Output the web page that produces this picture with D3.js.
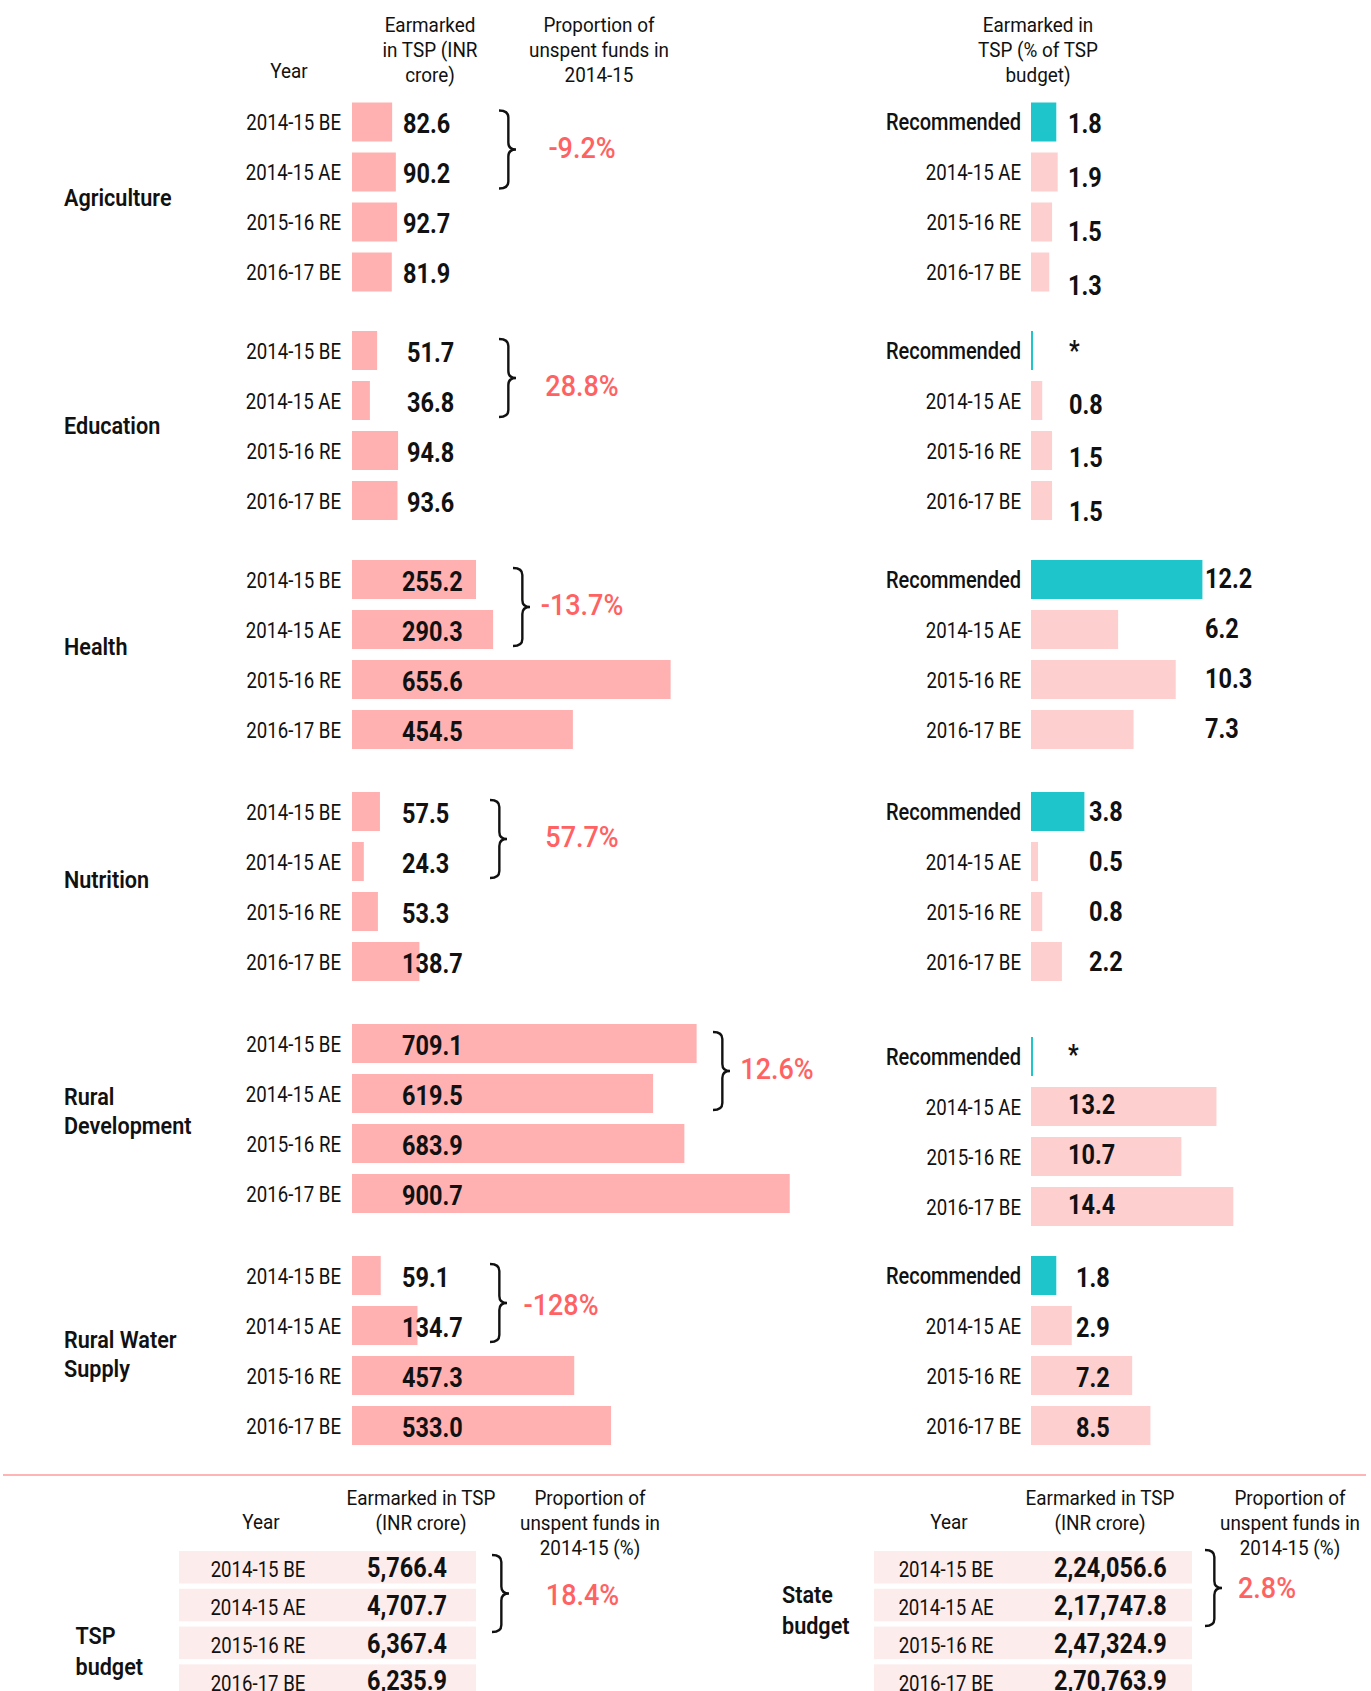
<!DOCTYPE html>
<html><head><meta charset="utf-8">
<script src="https://cdn.jsdelivr.net/npm/d3@7"></script>
<style>
html,body{margin:0;padding:0;background:#fff;}
svg{display:block;font-family:Roboto,"Open Sans",sans-serif;}
</style></head><body>
<svg id="chart" width="1371" height="1691"></svg>
<script>
// ---------------- DATA ----------------
const categories = ["Agriculture", "Education", "Health", "Nutrition", "Rural Development", "Rural Water Supply"];
const categoryLines = [["Agriculture"], ["Education"], ["Health"], ["Nutrition"], ["Rural", "Development"], ["Rural Water", "Supply"]];
const yearLabels = ["2014-15 BE", "2014-15 AE", "2015-16 RE", "2016-17 BE"];
const shareLabels = ["Recommended", "2014-15 AE", "2015-16 RE", "2016-17 BE"];
// Earmarked in TSP (INR crore), by category, in yearLabels order
const earmarkedAgriculture = [82.6, 90.2, 92.7, 81.9];
const earmarkedEducation = [51.7, 36.8, 94.8, 93.6];
const earmarkedHealth = [255.2, 290.3, 655.6, 454.5];
const earmarkedNutrition = [57.5, 24.3, 53.3, 138.7];
const earmarkedRuralDev = [709.1, 619.5, 683.9, 900.7];
const earmarkedRuralWater = [59.1, 134.7, 457.3, 533.0];
const earmarked = [earmarkedAgriculture, earmarkedEducation, earmarkedHealth, earmarkedNutrition, earmarkedRuralDev, earmarkedRuralWater];
// Proportion of unspent funds in 2014-15 (%)
const unspentPct = [-9.2, 28.8, -13.7, 57.7, 12.6, -128];
// Earmarked in TSP (% of TSP budget): recommended (null = "*"), then 2014-15 AE, 2015-16 RE, 2016-17 BE
const recommendedPct = [1.8, null, 12.2, 3.8, null, 1.8];
const sharePct = [[1.9, 1.5, 1.3], [0.8, 1.5, 1.5], [6.2, 10.3, 7.3], [0.5, 0.8, 2.2], [13.2, 10.7, 14.4], [2.9, 7.2, 8.5]];
// Bottom tables
const budgetNames = [["TSP", "budget"], ["State", "budget"]];
const tspBudget = [5766.4, 4707.7, 6367.4, 6235.9];
const stateBudget = [224056.6, 217747.8, 247324.9, 270763.9];
const budgetUnspent = [18.4, 2.8];

// ---------------- LAYOUT ----------------
const sectionTop = [102.5, 331, 560, 792, 1024, 1256];
const rightOffset = [0, 0, 0, 0, 13, 0];
const catDy = [1, 0.5, -7.5, -6.5, -7, 4];
const leftValX = [403, 407, 402, 402, 402, 402];
const braceX = [499, 499, 513, 490, 713, 490];
const pctX = [582, 582, 582, 582, 777, 561];
const pctDy = [0, 10, 0, 0, 0, 4];
const rightValX = [1068, 1069, 1205, 1089, 1068, 1076];
const rightValPitch = [54, 53.5, 50, 50, 50, 50];
const rightValDy = [1, 0, -1.5, 0, -2, 2];

const C = {bar: "#FFB1B1", share: "#FDCFCF", rec: "#1EC6CC", pct: "#FF6262", rowBg: "#FDECEC", rule: "#FFB5B5", ink: "#111"};

const svg = d3.select("#chart");

function txt(sel, x, y, str, o) {
  o = o || {};
  const g = sel.append("g").attr("transform", `translate(${x},${y}) scale(${o.sx || 0.85},1)`);
  g.append("text")
    .attr("text-anchor", o.anchor || "start")
    .attr("dy", o.dy == null ? "0.35em" : o.dy)
    .attr("font-size", o.size || 22)
    .attr("font-weight", o.weight || 400)
    .attr("fill", o.fill || C.ink)
    .text(str);
  return g;
}
function lines(sel, x, y0, arr, lh, o) {
  arr.forEach((s, i) => txt(sel, x, y0 + i * lh, s, o));
}
function brace(sel, x, y1, y2, w) {
  const ym = (y1 + y2) / 2, xm = x + w * 0.55, r = 7;
  const p = `M${x},${y1} Q${xm},${y1} ${xm},${y1 + r} L${xm},${ym - r} Q${xm},${ym} ${x + w},${ym} Q${xm},${ym} ${xm},${ym + r} L${xm},${y2 - r} Q${xm},${y2} ${x},${y2}`;
  sel.append("path").attr("d", p).attr("fill", "none").attr("stroke", "#111").attr("stroke-width", 2.4);
}
const fmt1 = d3.format(".1f");
function fmtPct(v) {
  const a = Math.abs(v);
  return (v < 0 ? "-" : "") + (a >= 100 ? d3.format(".0f")(a) : fmt1(a)) + "%";
}
function fmtIndian(v) {
  const [int, dec] = v.toFixed(1).split(".");
  const last3 = int.slice(-3);
  let rest = int.slice(0, -3);
  if (!rest) return last3 + "." + dec;
  rest = rest.replace(/\B(?=(\d{2})+(?!\d))/g, ",");
  return rest + "," + last3 + "." + dec;
}

const S = {
  year: {size: 23, sx: 0.81},
  rec: {size: 23, sx: 0.87, weight: 500},
  val: {size: 28, sx: 0.84, weight: 700},
  cat: {size: 24, sx: 0.9, weight: 600},
  pct: {size: 30, sx: 0.9, fill: C.pct, weight: 500},
  head: {size: 21, sx: 0.9, anchor: "middle"}
};

// scales
const xLeft = d3.scaleLinear().domain([0, 1000]).range([352, 352 + 486]);
const xRight = d3.scaleLinear().domain([0, 15]).range([1031, 1031 + 210.75]);
const rowBand = d3.scaleBand().domain(d3.range(4)).range([0, 189]).paddingInner(0.22).paddingOuter(0);

// ---------------- HEADERS ----------------
txt(svg, 289, 71, "Year", S.head);
lines(svg, 430, 25, ["Earmarked", "in TSP (INR", "crore)"], 24.8, S.head);
lines(svg, 599, 25, ["Proportion of", "unspent funds in", "2014-15"], 24.8, S.head);
lines(svg, 1038, 25, ["Earmarked in", "TSP (% of TSP", "budget)"], 24.8, S.head);

// ---------------- SECTIONS ----------------
categories.forEach((cat, k) => {
  const top = sectionTop[k];
  const g = svg.append("g").attr("class", "section");
  const bw = rowBand.bandwidth();
  // category label
  const cl = categoryLines[k];
  const cy = top + 94.5 + catDy[k] - (cl.length - 1) * 14.5;
  lines(g, 64, cy, cl, 29, S.cat);

  // left bars
  earmarked[k].forEach((v, i) => {
    const y = top + rowBand(i);
    g.append("rect").attr("x", xLeft(0)).attr("y", y).attr("width", xLeft(v) - xLeft(0)).attr("height", bw).attr("fill", C.bar);
    txt(g, 341, y + bw / 2, yearLabels[i], Object.assign({anchor: "end"}, S.year));
    txt(g, leftValX[k], y + bw / 2 + 1.5, fmt1(v), S.val);
  });

  // brace + unspent
  brace(g, braceX[k], top + 8, top + 86, 17);
  txt(g, pctX[k], top + 44.5 + pctDy[k], fmtPct(unspentPct[k]), Object.assign({anchor: "middle"}, S.pct));

  // right bars
  const rtop = top + rightOffset[k];
  const rv = [recommendedPct[k]].concat(sharePct[k]);
  rv.forEach((v, i) => {
    const y = rtop + rowBand(i);
    const w = v == null ? 2 : xRight(v) - xRight(0);
    g.append("rect").attr("x", xRight(0)).attr("y", y).attr("width", w).attr("height", bw).attr("fill", i === 0 ? C.rec : C.share);
    txt(g, 1021, y + bw / 2, shareLabels[i], Object.assign({anchor: "end"}, i === 0 ? S.rec : S.year));
    const ly = rtop + bw / 2 + rightValDy[k] + i * rightValPitch[k];
    txt(g, rightValX[k], ly, v == null ? "*" : fmt1(v), S.val);
  });
});

// ---------------- SEPARATOR ----------------
svg.append("line").attr("x1", 3).attr("x2", 1366).attr("y1", 1475).attr("y2", 1475).attr("stroke", C.rule).attr("stroke-width", 2);

// ---------------- BOTTOM TABLES ----------------
const tables = [
  {vals: tspBudget, yearX: 261, earX: 421, propX: 590, bg: [179, 476], rowYearX: 258, valX: 367, nameX: 75.5, nameY: 1636, braceX: 492, brY: [1555, 1632], pctX: 582.5, pctY: 1594},
  {vals: stateBudget, yearX: 949, earX: 1100, propX: 1290, bg: [874, 1192], rowYearX: 946, valX: 1054, nameX: 782, nameY: 1595, braceX: 1205, brY: [1550, 1626], pctX: 1267, pctY: 1587}
];
const botBand = d3.scaleBand().domain(d3.range(4)).range([1551, 1551 + 37.8 * (4 - 0.14)]).paddingInner(0.14).paddingOuter(0);
tables.forEach((t, k) => {
  const g = svg.append("g").attr("class", "table");
  txt(g, t.yearX, 1522, "Year", S.head);
  lines(g, t.earX, 1498, ["Earmarked in TSP", "(INR crore)"], 25, S.head);
  lines(g, t.propX, 1498, ["Proportion of", "unspent funds in", "2014-15 (%)"], 25, S.head);
  lines(g, t.nameX, t.nameY, budgetNames[k], 31, S.cat);
  t.vals.forEach((v, i) => {
    const y = botBand(i), bh = botBand.bandwidth();
    g.append("rect").attr("x", t.bg[0]).attr("y", y).attr("width", t.bg[1] - t.bg[0]).attr("height", bh).attr("fill", C.rowBg);
    txt(g, t.rowYearX, y + bh / 2 + 2, yearLabels[i], Object.assign({anchor: "middle"}, S.year));
    txt(g, t.valX, y + bh / 2, fmtIndian(v), S.val);
  });
  brace(g, t.braceX, t.brY[0], t.brY[1], 17);
  txt(g, t.pctX, t.pctY, fmtPct(budgetUnspent[k]), Object.assign({anchor: "middle"}, S.pct));
});
</script>
</body></html>
